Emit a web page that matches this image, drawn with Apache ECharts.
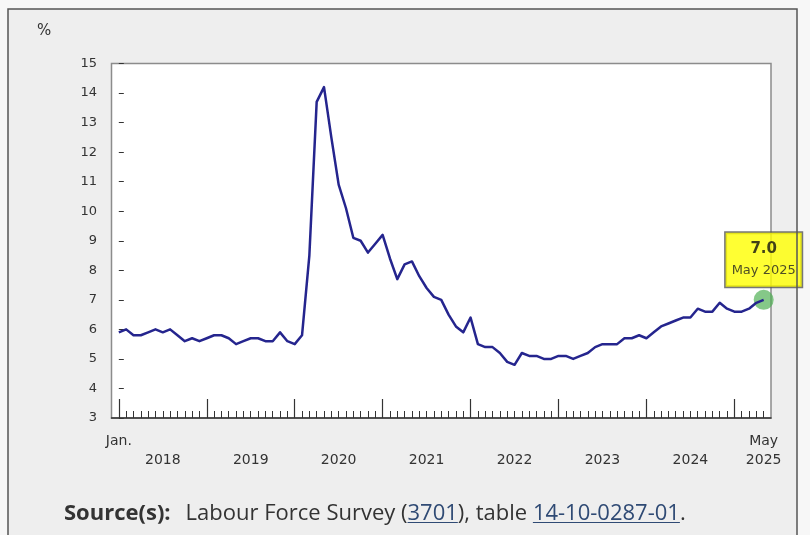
<!DOCTYPE html>
<html>
<head>
<meta charset="utf-8">
<script src="https://cdn.jsdelivr.net/npm/echarts@6/dist/echarts.min.js"></script>
<style>
html,body{margin:0;padding:0;background:#f7f7f7;}
#chart{width:810px;height:535px;}
</style>
</head>
<body>
<div id="chart"></div>
<script>
// ---- Data (unemployment rate, %, monthly Jan 2018 - May 2025) ----
const years = ['2018','2019','2020','2021','2022','2023','2024','2025'];
const firstMonthLabel = 'Jan.';
const lastMonthLabel = 'May';
const rate2018 = [5.9, 6.0, 5.8, 5.8, 5.9, 6.0, 5.9, 6.0, 5.8, 5.6, 5.7, 5.6];
const rate2019 = [5.7, 5.8, 5.8, 5.7, 5.5, 5.6, 5.7, 5.7, 5.6, 5.6, 5.9, 5.6];
const rate2020 = [5.5, 5.8, 8.5, 13.7, 14.2, 12.5, 10.9, 10.1, 9.1, 9.0, 8.6, 8.9];
const rate2021 = [9.2, 8.4, 7.7, 8.2, 8.3, 7.8, 7.4, 7.1, 7.0, 6.5, 6.1, 5.9];
const rate2022 = [6.4, 5.5, 5.4, 5.4, 5.2, 4.9, 4.8, 5.2, 5.1, 5.1, 5.0, 5.0];
const rate2023 = [5.1, 5.1, 5.0, 5.1, 5.2, 5.4, 5.5, 5.5, 5.5, 5.7, 5.7, 5.8];
const rate2024 = [5.7, 5.9, 6.1, 6.2, 6.3, 6.4, 6.4, 6.7, 6.6, 6.6, 6.9, 6.7];
const rate2025 = [6.6, 6.6, 6.7, 6.9, 7.0];
const yMin = 3, yMax = 15, yStep = 1;
const unitLabel = '%';
const sourceLabel = 'Source(s):';
const sourceText1 = 'Labour Force Survey (';
const sourceLink1 = '3701';
const sourceText2 = '), table ';
const sourceLink2 = '14-10-0287-01';
const sourceText3 = '.';

// ---- Build ----
const values = [].concat(rate2018, rate2019, rate2020, rate2021, rate2022, rate2023, rate2024, rate2025);
const seriesData = values.map((v, i) => [i, v]);
const lastIdx = values.length - 1;
const monthTicks = values.map((v, i) => i);
const janTicks = years.map((y, k) => 12 * k).filter(v => v <= lastIdx);
const yearCenters = years.slice(0, -1).map((y, k) => 12 * k + 6);
const labelValues = [0].concat(yearCenters, [lastIdx]);
function xLabel(v) {
  if (v === 0) return firstMonthLabel;
  if (v === lastIdx) return lastMonthLabel + '\n' + years[years.length - 1];
  const k = yearCenters.indexOf(v);
  return k >= 0 ? '\n' + years[k] : '';
}
const lastLabelDate = lastMonthLabel + ' ' + years[years.length - 1];

const FONT = 'DejaVu Sans';
const gridBox = { left: 111.5, top: 63.5, right: 39, bottom: 117 };
const xMin = -1, xMax = lastIdx + 1;

const underline = {
  type: 'linear', x: 0, y: 0, x2: 0, y2: 1,
  colorStops: [
    { offset: 0, color: 'rgba(0,0,0,0)' },
    { offset: 0.87, color: 'rgba(0,0,0,0)' },
    { offset: 0.87, color: '#2f4a74' },
    { offset: 0.925, color: '#2f4a74' },
    { offset: 0.925, color: 'rgba(0,0,0,0)' },
    { offset: 1, color: 'rgba(0,0,0,0)' }
  ]
};

const chart = echarts.init(document.getElementById('chart'), null, { renderer: 'canvas' });
chart.setOption({
  animation: false,
  backgroundColor: 'transparent',
  graphic: [
    { type: 'rect', z: -10, shape: { x: 8, y: 9, width: 789, height: 540 },
      style: { fill: '#eeeeee', stroke: null } },
    { type: 'rect', z: 100, silent: true, shape: { x: 8, y: 9, width: 789, height: 540 },
      style: { fill: 'none', stroke: '#555555', lineWidth: 1.5 } },
    { type: 'text', left: 37, top: 24,
      style: { text: unitLabel, font: '15px "DejaVu Sans"', fill: '#333' } },
    { type: 'text', x: 64, y: 514,
      style: {
        text: '{b|' + sourceLabel + '}{sp|}{n|' + sourceText1 + '}{l|' + sourceLink1 + '}{n|' + sourceText2 + '}{l|' + sourceLink2 + '}{n|' + sourceText3 + '}',
        verticalAlign: 'middle',
        rich: {
          b: { fontFamily: 'Open Sans', fontWeight: 'bold', fontSize: 22, lineHeight: 30, fill: '#333' },
          sp: { width: 15, lineHeight: 30 },
          n: { fontFamily: 'Open Sans', fontSize: 22, lineHeight: 30, fill: '#333' },
          l: { fontFamily: 'Open Sans', fontSize: 22, lineHeight: 30, fill: '#2f4a74', backgroundColor: underline }
        }
      } }
  ],
  grid: [
    Object.assign({ show: true, backgroundColor: '#ffffff', borderColor: '#8c8c8c', borderWidth: 1.5 }, gridBox),
    Object.assign({ show: false }, gridBox)
  ],
  xAxis: [
    { type: 'value', gridIndex: 0, min: xMin, max: xMax, position: 'bottom',
      splitLine: { show: false },
      axisLine: { show: true, onZero: false, lineStyle: { color: '#333', width: 1.5 } },
      axisTick: { show: true, inside: true, length: 7, customValues: monthTicks, lineStyle: { color: '#333', width: 1 } },
      axisLabel: { show: true, customValues: labelValues, formatter: xLabel, margin: 14,
        fontFamily: FONT, fontSize: 14, lineHeight: 19, color: '#333', verticalAlign: 'top' } },
    { type: 'value', gridIndex: 1, min: xMin, max: xMax, position: 'bottom',
      splitLine: { show: false },
      axisLine: { show: false, onZero: false },
      axisTick: { show: true, inside: true, length: 19, customValues: janTicks, lineStyle: { color: '#333', width: 1.2 } },
      axisLabel: { show: false } }
  ],
  yAxis: [
    { type: 'value', gridIndex: 0, min: yMin, max: yMax, interval: yStep,
      splitLine: { show: false },
      axisLine: { show: false },
      axisTick: { show: true, inside: true, length: 5, lineStyle: { color: '#333', width: 1 } },
      axisLabel: { margin: 14.5, fontFamily: FONT, fontSize: 13, color: '#333' } },
    { type: 'value', gridIndex: 1, min: yMin, max: yMax, show: false }
  ],
  series: [
    { type: 'line', xAxisIndex: 0, yAxisIndex: 0, data: seriesData, showSymbol: false, symbol: 'none', z: 3,
      lineStyle: { color: '#25258e', width: 2.5, join: 'round' } },
    { type: 'scatter', xAxisIndex: 0, yAxisIndex: 0, data: [seriesData[lastIdx]], symbolSize: 20, z: 2,
      itemStyle: { color: 'rgba(76,175,80,0.85)' },
      label: { show: true, position: 'top', distance: 3,
        formatter: function (p) { return '{v|' + p.value[1].toFixed(1) + '}\n{d|' + lastLabelDate + '}'; },
        backgroundColor: '#ffff00', borderColor: '#555', borderWidth: 1.5, padding: [5, 6],
        rich: {
          v: { fontFamily: FONT, fontWeight: 'bold', fontSize: 15, lineHeight: 22, color: '#111', align: 'center' },
          d: { fontFamily: FONT, fontSize: 13, lineHeight: 22, color: '#222', align: 'center' }
        } } }
  ]
});
</script>
</body>
</html>
